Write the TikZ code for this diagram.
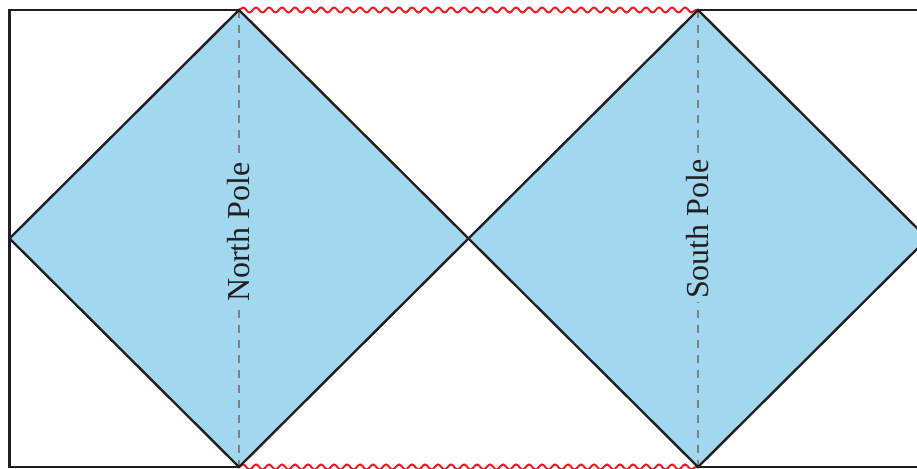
\documentclass[tikz,border=0pt]{standalone}
\usepackage{fontspec}
\setmainfont{Liberation Serif}
\usetikzlibrary{decorations.pathmorphing}
\definecolor{skyfill}{RGB}{161,216,240}
\definecolor{edgeblack}{RGB}{35,31,32}
\definecolor{polegray}{RGB}{128,128,128}
\definecolor{wavered}{RGB}{237,28,36}
\tikzset{
  region/.style={fill=skyfill},
  edge/.style={draw=edgeblack, line width=2.4pt, line join=miter},
  pole/.style={draw=polegray, line width=2.4pt, dash pattern=on 8pt off 7pt},
  polelabel/.style={fill=skyfill, inner sep=3pt, rotate=90, font=\fontsize{32}{32}\selectfont, text=edgeblack},
  sing/.style={draw=wavered, line width=2pt, decorate, decoration={snake, segment length=13pt, amplitude=2.5pt}}
}
\begin{document}
\begin{tikzpicture}[x=1pt,y=-1pt]
\useasboundingbox (0,0) rectangle (917,468);
\clip (0,0) rectangle (917,468);
% key points
\coordinate (NT) at (239,10);
\coordinate (NB) at (239,467);
\coordinate (NL) at (9.5,238.5);
\coordinate (M)  at (468.5,238.5);
\coordinate (ST) at (698,10);
\coordinate (SB) at (698,467);
\coordinate (SR) at (927.5,238.5);
\coordinate (TL) at (9.5,10);
\coordinate (BL) at (9.5,467);
\coordinate (TR) at (930,10);
\coordinate (BR) at (930,467);
% regions
\fill[region] (NT) -- (M) -- (NB) -- (NL) -- cycle;
\fill[region] (ST) -- (SR) -- (SB) -- (M) -- cycle;
% poles
\draw[pole] (NT) -- (NB);
\draw[pole] (ST) -- (SB);
\node[polelabel] (north) at (239,232) {North Pole};
\node[polelabel] (south) at (698,229) {South Pole};
% singularities
\draw[sing] (NT) -- (ST);
\draw[sing] (NB) -- (SB);
% edges
\draw[edge] (NT) -- (M) -- (NB) -- (NL) -- cycle;
\draw[edge] (ST) -- (SR) -- (SB) -- (M) -- cycle;
\draw[edge] (NT) -- (TL) -- (BL) -- (NB);
\draw[edge] (ST) -- (TR);
\draw[edge] (SB) -- (BR);
\end{tikzpicture}
\end{document}
